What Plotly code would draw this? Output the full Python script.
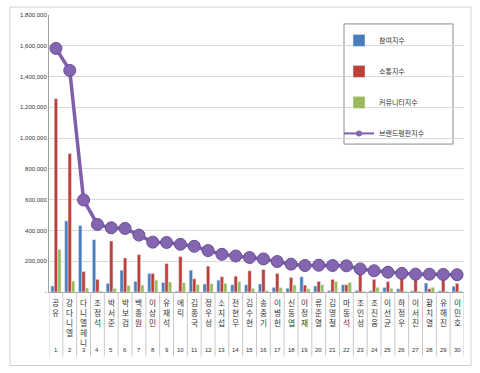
import plotly.graph_objects as go

names = ["공유", "강다니엘", "다니엘헤니", "조정석", "박서준", "박보검", "백종원", "이상민", "유재석", "에릭",
         "김종국", "정우성", "소지섭", "전현무", "김수현", "송중기", "이병헌", "신동엽", "이정재", "류준열",
         "김영철", "마동석", "조인성", "조진웅", "이선균", "하정우", "이서진", "황치열", "유해진", "이민호"]
ranks = list(range(1, 31))
participation = [39000, 462000, 432000, 340000, 56000, 142000, 69000, 120000, 62000, 5000,
                 142000, 52000, 77000, 47000, 47000, 52000, 30000, 24000, 99000, 39000,
                 10000, 47000, 10000, 8000, 30000, 21000, 8000, 58000, 8000, 37000]
communication = [1256000, 899000, 133000, 82000, 331000, 221000, 243000, 120000, 185000, 230000,
                 86000, 168000, 99000, 103000, 138000, 146000, 120000, 95000, 45000, 69000,
                 82000, 47000, 150000, 82000, 67000, 120000, 115000, 21000, 113000, 56000]
community = [277000, 71000, 26000, 5000, 24000, 43000, 45000, 77000, 65000, 60000,
             49000, 54000, 56000, 67000, 24000, 9000, 28000, 45000, 21000, 47000,
             67000, 62000, 5000, 30000, 24000, 5000, 5000, 30000, 5000, 7000]
brand = [1583000, 1440000, 598000, 439000, 417000, 413000, 370000, 324000, 322000, 310000,
         297000, 269000, 245000, 234000, 224000, 215000, 198000, 181000, 172000, 174000,
         172000, 170000, 150000, 138000, 129000, 121000, 116000, 116000, 114000, 112000]
yticks = [0, 200000, 400000, 600000, 800000, 1000000, 1200000, 1400000, 1600000, 1800000]
yticktext = ["-"] + [f"{v:,}" for v in yticks[1:]]

W, H = 480, 373
L, R, T, B = 49, 464, 13, 292
def px(x):
    return (x - L) / (R - L)
def py(y):
    return (B - y) / (B - T)

xs = list(range(30))
LINE_C = "#7F5FAA"
fig = go.Figure()
fig.add_trace(go.Bar(x=xs, y=participation, name="참여지수", marker_color="#4A7EBB", legendgroup="a"))
fig.add_trace(go.Bar(x=xs, y=communication, name="소통지수", marker_color="#BE3F3A", legendgroup="b"))
fig.add_trace(go.Bar(x=xs, y=community, name="커뮤니티지수", marker_color="#9BBB59", legendgroup="c"))
fig.add_trace(go.Scatter(x=xs, y=brand, name="브랜드평판지수", mode="lines+markers",
                         line=dict(color=LINE_C, width=3.5),
                         marker=dict(size=12, color="#8466B0", line=dict(color="#6A4E96", width=1)),
                         showlegend=False))
fig.add_trace(go.Scatter(x=[None], y=[None], name="브랜드평판지수", mode="lines+markers",
                         line=dict(color=LINE_C, width=2),
                         marker=dict(size=6, color="#8466B0"), legendgroup="d"))

shapes = []
shapes.append(dict(type="rect", xref="paper", yref="paper", x0=px(10), x1=px(471), y0=py(366), y1=py(5),
                   line=dict(color="#D0D0D0", width=1), fillcolor="rgba(0,0,0,0)", layer="below"))
for i in range(31):
    shapes.append(dict(type="line", xref="x", yref="paper", x0=i - 0.5, x1=i - 0.5, y0=0, y1=py(357),
                       line=dict(color="#C8C8C8", width=1)))
shapes.append(dict(type="rect", xref="paper", yref="paper", x0=px(344), x1=px(453), y0=py(143), y1=py(22),
                   line=dict(color="#8C8C8C", width=1), fillcolor="white", layer="below"))

annotations = []
for i, n in enumerate(names):
    annotations.append(dict(x=i, xref="x", y=py(296), yref="paper", text="<br>".join(list(n)),
                            showarrow=False, yanchor="top", xanchor="center", borderpad=0,
                            font=dict(family="Noto Sans CJK KR", size=7.7, color="#333333")))
    annotations.append(dict(x=i, xref="x", y=py(350), yref="paper", text=str(ranks[i]),
                            showarrow=False, yanchor="middle", xanchor="center", borderpad=0,
                            font=dict(family="Liberation Sans", size=6, color="#333333")))

fig.update_layout(
    width=W, height=H,
    margin=dict(l=L, r=W - R, t=T, b=H - B),
    paper_bgcolor="white", plot_bgcolor="white",
    barmode="group", bargap=0.27, bargroupgap=0,
    showlegend=True,
    legend=dict(x=px(339), y=py(24), xanchor="left", yanchor="top", bgcolor="rgba(0,0,0,0)",
                borderwidth=0, tracegroupgap=12, itemwidth=30,
                font=dict(family="Noto Sans CJK KR", size=7, color="#333333"),
                traceorder="grouped"),
    shapes=shapes,
    annotations=annotations,
    xaxis=dict(range=[-0.5, 29.5], showticklabels=False, showgrid=False, zeroline=False,
               showline=True, linecolor="#A0A0A0", ticks=""),
    yaxis=dict(range=[0, 1800000], tickvals=yticks, ticktext=yticktext, showgrid=True,
               gridcolor="#D9D9D9", zeroline=False, showline=True, linecolor="#A0A0A0",
               ticks="", tickfont=dict(family="Liberation Sans", size=6, color="#333333")),
)
fig.write_html("out.html", config={"displayModeBar": False},
               post_script="document.body.style.margin='0px';")
